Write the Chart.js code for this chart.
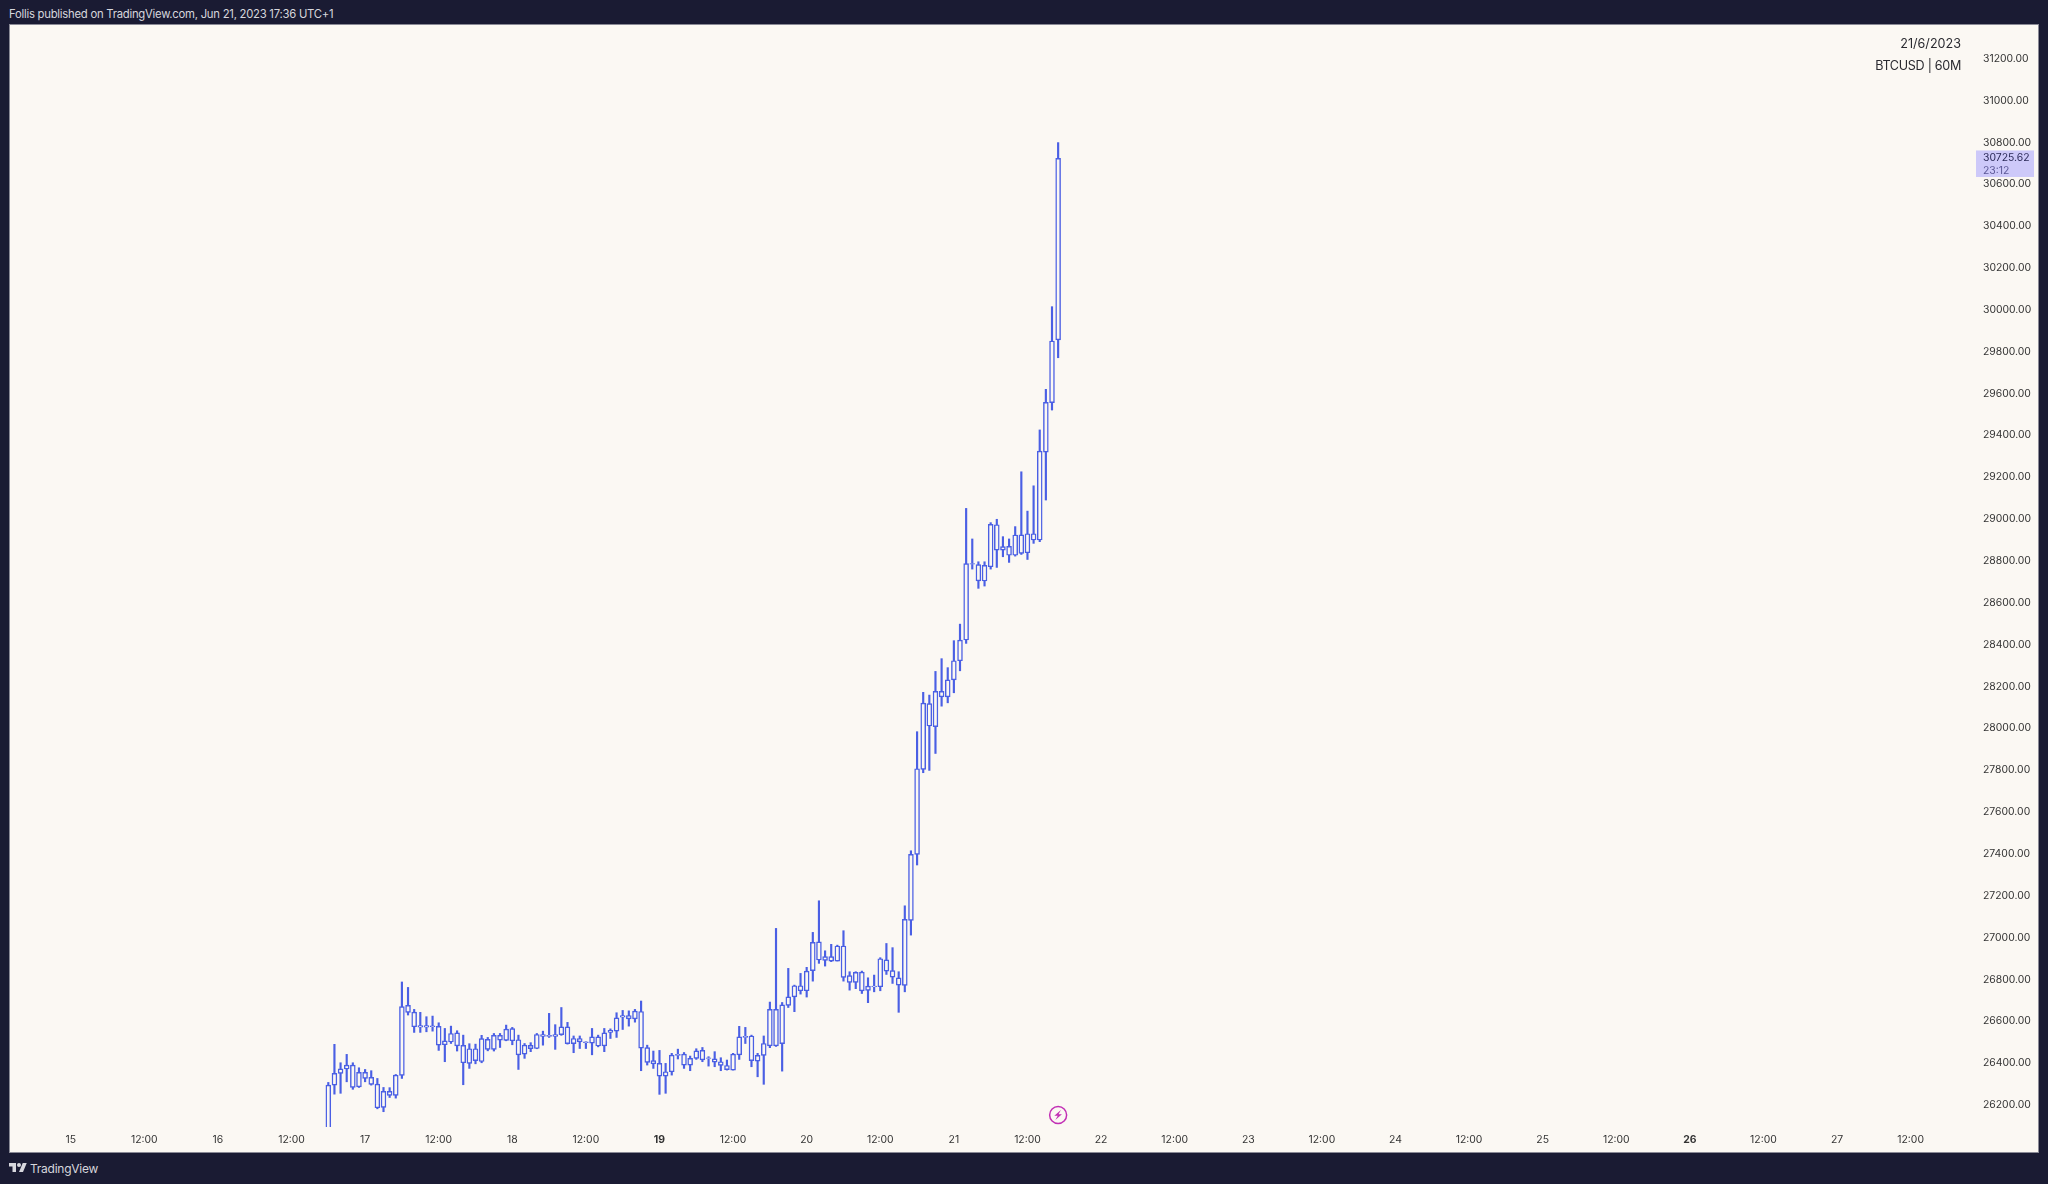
<!DOCTYPE html>
<html>
<head>
<meta charset="utf-8">
<script src="https://cdn.jsdelivr.net/npm/chart.js@4/dist/chart.umd.min.js"></script>
<style>
html,body{margin:0;padding:0;width:2048px;height:1184px;overflow:hidden;background:#1a1b33;font-family:Inter,"Noto Sans",sans-serif;}
#panel{position:absolute;left:10px;top:25px;width:2028px;height:1127px;background:#fbf8f3;outline:1px solid #8a8a96;}
#chart{display:block;}
.t{position:absolute;white-space:nowrap;line-height:1;}
#pub{left:9px;top:9px;font-size:11.3px;letter-spacing:-0.25px;color:#d6d6dc;}
#brand{left:30px;top:1163px;font-size:12px;letter-spacing:-0.25px;color:#d6d6dc;}
#logo{position:absolute;left:9px;top:1161px;}
.note{right:87px;font-size:12.6px;color:#2a2a30;}
</style>
</head>
<body>
<div class="t" id="pub">Follis published on TradingView.com, Jun 21, 2023 17:36 UTC+1</div>
<div id="panel"><canvas id="chart" width="2028" height="1127"></canvas></div>
<div class="t note" style="top:38px">21/6/2023</div>
<div class="t note" style="top:60px;letter-spacing:-0.3px">BTCUSD | 60M</div>
<svg id="logo" width="18" height="14" viewBox="0 0 36 28" fill="#d8d8de"><path d="M14 22H7V11H0V4h14v18zM28 22h-8l7.5-18h8L28 22z"/><circle cx="20" cy="8" r="4"/></svg>
<div class="t" id="brand">TradingView</div>
<script>
const wickHigh = [
26308,26490,26402,26442,26402,26378,26370,26364,26327,26284,
26283,26346,26788,26762,26657,26643,26622,26625,26593,26566,
26577,26555,26534,26493,26491,26533,26523,26542,26542,26582,
26571,26534,26494,26498,26542,26553,26638,26584,26666,26595,
26530,26530,26502,26566,26534,26566,26564,26641,26652,26650,
26657,26697,26486,26458,26461,26399,26447,26467,26451,26434,
26469,26475,26431,26455,26426,26415,26447,26576,26571,26534,
26447,26530,26692,27044,26690,26853,26773,26829,26858,27025,
27176,26937,26968,26964,27033,26837,26837,26840,26808,26821,
26904,26972,26952,26837,27152,27415,27984,28172,28159,28272,
28333,28290,28419,28498,29051,28905,28796,28796,28983,28999,
28916,28905,28964,29226,29038,29159,29426,29620,30015,30799];
const bodyTop = [
26295,26351,26373,26391,26391,26356,26356,26332,26300,26265,
26265,26343,26670,26676,26644,26580,26580,26579,26576,26507,
26542,26545,26485,26469,26469,26517,26514,26533,26533,26563,
26565,26512,26486,26485,26537,26537,26533,26537,26574,26574,
26518,26518,26502,26526,26526,26545,26557,26617,26628,26628,
26649,26647,26474,26412,26399,26359,26439,26442,26443,26423,
26459,26461,26426,26421,26407,26389,26443,26526,26528,26530,
26437,26494,26657,26657,26679,26717,26770,26770,26840,26977,
26980,26909,26909,26960,26960,26818,26834,26835,26768,26768,
26899,26894,26842,26808,27087,27398,27807,28121,28118,28177,
28177,28232,28323,28422,28787,28787,28782,28779,28975,28973,
28868,28870,28924,28925,28930,28930,29325,29558,29851,30724];
const bodyBottom = [
26050,26295,26351,26372,26284,26287,26327,26299,26187,26189,
26246,26246,26342,26643,26574,26572,26572,26574,26486,26488,
26501,26483,26402,26399,26412,26408,26466,26466,26510,26509,
26507,26440,26443,26469,26470,26528,26528,26528,26536,26493,
26493,26502,26498,26496,26482,26483,26547,26553,26620,26612,
26612,26472,26404,26397,26338,26338,26359,26437,26391,26391,
26423,26416,26423,26405,26389,26369,26367,26440,26523,26412,
26410,26437,26483,26483,26493,26676,26717,26746,26746,26842,
26893,26891,26888,26888,26810,26786,26786,26745,26748,26764,
26765,26840,26811,26773,26772,27082,27398,27804,28011,28008,
28150,28150,28232,28323,28422,28784,28705,28704,28772,28852,
28852,28827,28827,28836,28839,28900,28900,29320,29556,29856];
const wickLow = [
26030,26252,26256,26311,26275,26284,26311,26295,26182,26168,
26236,26233,26327,26630,26547,26547,26550,26553,26461,26407,
26494,26458,26297,26375,26397,26402,26459,26458,26475,26507,
26488,26370,26423,26455,26469,26486,26523,26466,26533,26491,
26450,26470,26470,26440,26478,26455,26518,26523,26561,26577,
26596,26364,26391,26375,26251,26256,26343,26420,26375,26364,
26418,26407,26386,26383,26364,26367,26367,26418,26494,26383,
26335,26299,26474,26480,26362,26666,26646,26730,26716,26792,
26877,26864,26885,26888,26792,26749,26756,26733,26689,26741,
26746,26824,26781,26643,26741,27012,27347,27788,27799,27880,
28106,28122,28170,28275,28406,28761,28669,28680,28761,28769,
28820,28793,28823,28831,28807,28884,28892,29091,29521,29771];

const xTickLabels = ["15","12:00","16","12:00","17","12:00","18","12:00","19","12:00","20","12:00","21","12:00","22","12:00","23","12:00","24","12:00","25","12:00","26","12:00","27","12:00"];
const boldTickLabels = ["19","26"];
const yTickValues = [26200,26400,26600,26800,27000,27200,27400,27600,27800,28000,28200,28400,28600,28800,29000,29200,29400,29600,29800,30000,30200,30400,30600,30800,31000,31200];
const hoursPerXTick = 12;
const firstCandleHour = 42;
const lastPrice = 30725.62;
const lastPriceText = "30725.62";
const countdownText = "23:12";

const lineColor = "#4a5fe4";
const paper = "#fbf8f3";
const axisFont = "Inter, 'Noto Sans', sans-serif";
const hourOf = i => firstCandleHour + i;

const overlay = {
  id: "overlay",
  afterDraw(chart) {
    const c = chart.ctx, x = chart.scales.x, y = chart.scales.y;
    const py = y.getPixelForValue(lastPrice);
    const left = chart.chartArea.right;
    c.save();
    c.fillStyle = "#cdc9f9";
    c.fillRect(left, py - 7.5, 58, 26.5);
    c.textAlign = "left"; c.textBaseline = "middle";
    c.font = "10.4px " + axisFont;
    c.fillStyle = "#2b2a58";
    c.fillText(lastPriceText, left + 7, py);
    c.fillStyle = "#5b5796";
    c.fillText(countdownText, left + 7, py + 12.5);
    // lightning marker below the last candle
    const mx = x.getPixelForValue(hourOf(wickHigh.length - 1));
    const my = chart.chartArea.bottom - 12;
    c.strokeStyle = "#c22fb4"; c.lineWidth = 1.5;
    c.beginPath(); c.arc(mx, my, 8.5, 0, Math.PI * 2); c.stroke();
    c.fillStyle = "#c22fb4";
    c.beginPath();
    c.moveTo(mx + 2.8, my - 5); c.lineTo(mx - 3.8, my + 0.8); c.lineTo(mx - 0.4, my + 0.8);
    c.lineTo(mx - 2.8, my + 5); c.lineTo(mx + 3.8, my - 0.8); c.lineTo(mx + 0.4, my - 0.8);
    c.closePath(); c.fill();
    c.restore();
  }
};

const noPad = s => { s.paddingLeft = 0; s.paddingRight = 0; s.paddingTop = 0; s.paddingBottom = 0; };

new Chart(document.getElementById("chart"), {
  type: "bar",
  data: {
    datasets: [
      {
        label: "Body",
        data: wickHigh.map((_, i) => ({ x: hourOf(i), y: [bodyBottom[i], bodyTop[i]] })),
        backgroundColor: paper,
        borderColor: lineColor,
        borderWidth: 1.45,
        borderSkipped: false,
        barThickness: 4.9,
        grouped: false
      },
      {
        label: "Wick",
        data: wickHigh.map((_, i) => ({ x: hourOf(i), y: [wickLow[i], wickHigh[i]] })),
        backgroundColor: lineColor,
        borderWidth: 0,
        barThickness: 1.5,
        grouped: false
      }
    ]
  },
  options: {
    responsive: false,
    animation: false,
    layout: { padding: 0 },
    plugins: { legend: { display: false }, tooltip: { enabled: false }, title: { display: false } },
    scales: {
      x: {
        type: "linear",
        offset: false,
        min: -9.9,
        max: 310.66,
        grid: { display: false, drawTicks: false },
        border: { display: false },
        afterBuildTicks: s => { s.ticks = xTickLabels.map((_, i) => ({ value: i * hoursPerXTick })); },
        afterFit: s => { s.height = 25; noPad(s); },
        ticks: {
          autoSkip: false, maxRotation: 0, minRotation: 0, padding: 7,
          color: "#333",
          font: ctx => ({ family: axisFont, size: 10.4, weight: boldTickLabels.includes(xTickLabels[ctx.index]) ? "bold" : "normal" }),
          callback: (v, i) => xTickLabels[i]
        }
      },
      y: {
        type: "linear",
        position: "right",
        min: 26095,
        max: 31361,
        grid: { display: false, drawTicks: false },
        border: { display: false },
        afterBuildTicks: s => { s.ticks = yTickValues.map(v => ({ value: v })); },
        afterFit: s => { s.width = 62; noPad(s); },
        ticks: {
          autoSkip: false, padding: 7, color: "#333",
          font: { family: axisFont, size: 10.4 },
          callback: v => Number(v).toFixed(2)
        }
      }
    }
  },
  plugins: [overlay]
});
</script>
</body>
</html>
